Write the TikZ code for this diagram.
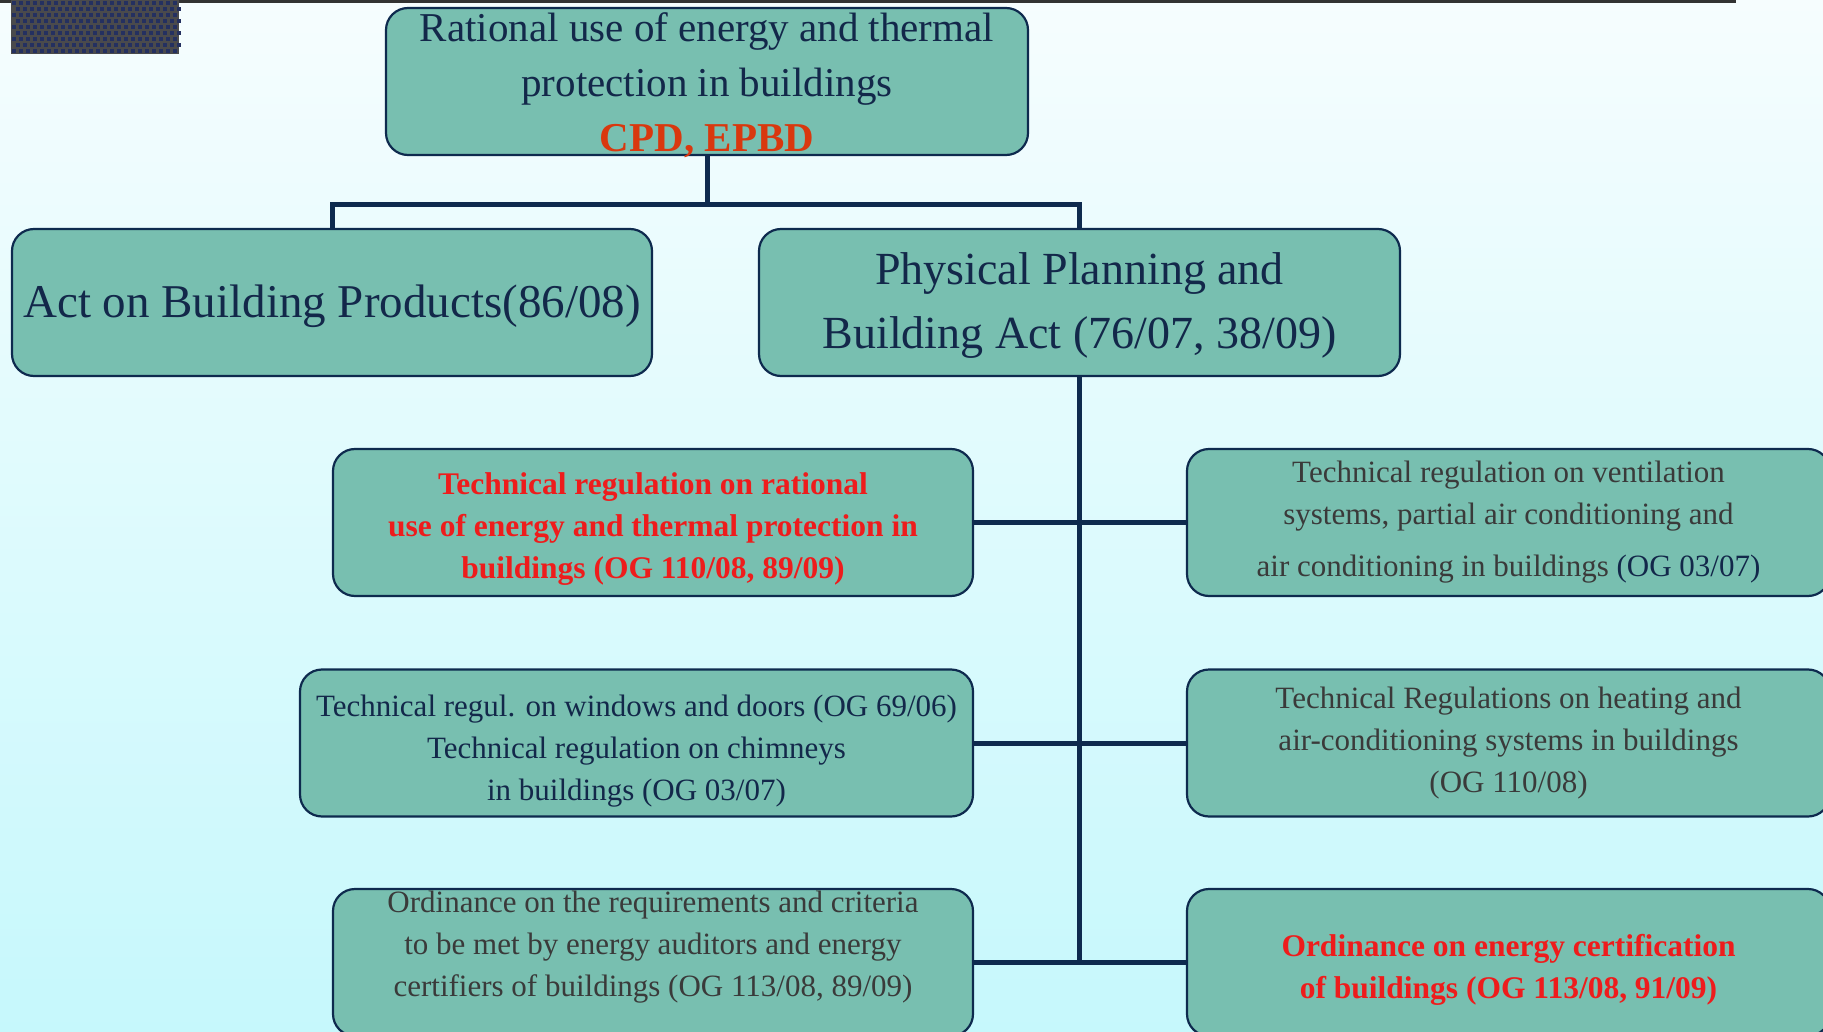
\documentclass[tikz,border=0pt]{standalone}
\usepackage{fontspec}
\setmainfont{Liberation Serif}
\definecolor{bgtop}{HTML}{F6FDFE}
\definecolor{bgbot}{HTML}{C6F8FC}
\definecolor{boxfill}{HTML}{78BFB0}
\definecolor{navy}{HTML}{0E2A4E}
\definecolor{txtnavy}{HTML}{13284A}
\definecolor{txtgray}{HTML}{3A3A3A}
\definecolor{txtred}{HTML}{EE1C1C}
\definecolor{txtorange}{HTML}{D9380E}
\definecolor{patgray}{HTML}{4A4A4C}
\definecolor{patblue}{HTML}{243060}
\begin{document}
\begin{tikzpicture}[x=1pt,y=-1pt,
  box/.style={draw=navy, line width=2.2pt, fill=boxfill, rounded corners=22pt,
    inner sep=0pt, minimum height=147pt},
  txt/.style={align=center, inner sep=0pt},
  small/.style={font=\fontsize{31}{42}\selectfont},
  smallbold/.style={font=\bfseries\fontsize{31.5}{42}\selectfont},
  conn/.style={draw=navy, line width=5pt}]
\useasboundingbox (0,0) rectangle (1823,1032);
\shade[top color=bgtop, bottom color=bgbot] (0,0) rectangle (1823,1032);
\begin{scope}
\clip (0,0) rectangle (1823,1032);
% top bar and patterned square
\fill[black!80] (0,0) rectangle (1736,3);
\fill[patgray] (11,0) rectangle (179,54);
\foreach \r in {0,...,8}{
  \pgfmathsetmacro{\off}{mod(\r,2)*3.5}
  \foreach \c in {0,...,23}{
    \fill[patblue] ({12+\off+\c*7},{1+\r*6}) rectangle ++(4,4);
  }
}

% boxes
\node[box, minimum width=642pt] (top) at (707,81.5) {};
\node[box, minimum width=640pt] (act) at (332,302.5) {};
\node[box, minimum width=641pt] (phys) at (1079.5,302.5) {};
\node[box, minimum width=640pt] (l1) at (653,522.5) {};
\node[box, minimum width=673pt] (l2) at (636.5,743) {};
\node[box, minimum width=640pt] (l3) at (653,962.5) {};
\node[box, minimum width=643pt] (r1) at (1508.5,522.5) {};
\node[box, minimum width=643pt] (r2) at (1508.5,743) {};
\node[box, minimum width=643pt] (r3) at (1508.5,962.5) {};

% texts
\node[txt, font=\fontsize{41}{55}\selectfont, text=txtnavy] (topt) at ([yshift=-3.5pt]top.center)
  {Rational use of energy and thermal\\ protection in buildings\\ \textcolor{txtorange}{\textbf{CPD, EPBD}}};
\node[txt, font=\fontsize{47}{60}\selectfont, text=txtnavy] (actt) at ([yshift=-3.5pt]act.center)
  {Act on Building Products(86/08)};
\node[txt, font=\fontsize{46}{64}\selectfont, text=txtnavy] (physt) at ([yshift=-3.5pt]phys.center)
  {Physical Planning and\\ Building Act (76/07, 38/09)};
\node[txt, smallbold, text=txtred] (l1t) at ([yshift=-7pt]l1.center)
  {Technical regulation on rational\\ use of energy and thermal protection in\\ buildings (OG 110/08, 89/09)};
\node[txt, small, text=txtnavy] (l2t) at ([yshift=-8pt]l2.center)
  {Technical regul. on windows and doors (OG 69/06)\\ Technical regulation on chimneys\\ in buildings (OG 03/07)};
\node[txt, small, text=txtgray] (l3t) at ([yshift=15pt]l3.center)
  {Ordinance on the requirements and criteria\\ to be met by energy auditors and energy\\ certifiers of buildings (OG 113/08, 89/09)};
\node[txt, small, text=txtgray] (r1t) at ([yshift=0pt]r1.center)
  {Technical regulation on ventilation\\ systems, partial air conditioning and\\[10pt] air conditioning in buildings \textcolor{txtnavy}{(OG 03/07)}};
\node[txt, small, text=txtgray] (r2t) at ([yshift=0pt]r2.center)
  {Technical Regulations on heating and\\ air-conditioning systems in buildings\\ (OG 110/08)};
\node[txt, smallbold, text=txtred] (r3t) at ([yshift=-7.5pt]r3.center)
  {Ordinance on energy certification\\ of buildings (OG 113/08, 91/09)};

% connectors
\coordinate (j) at (707,205);
\draw[conn] (top.south) -- (j);
\draw[conn] (act.north) |- (j) -| (phys.north);
\draw[conn] (phys.south) -- (phys.south |- r3.west);
\draw[conn] (l1.east) -- (r1.west);
\draw[conn] (l2.east) -- (r2.west);
\draw[conn] (l3.east) -- (r3.west);
\end{scope}
\end{tikzpicture}
\end{document}
